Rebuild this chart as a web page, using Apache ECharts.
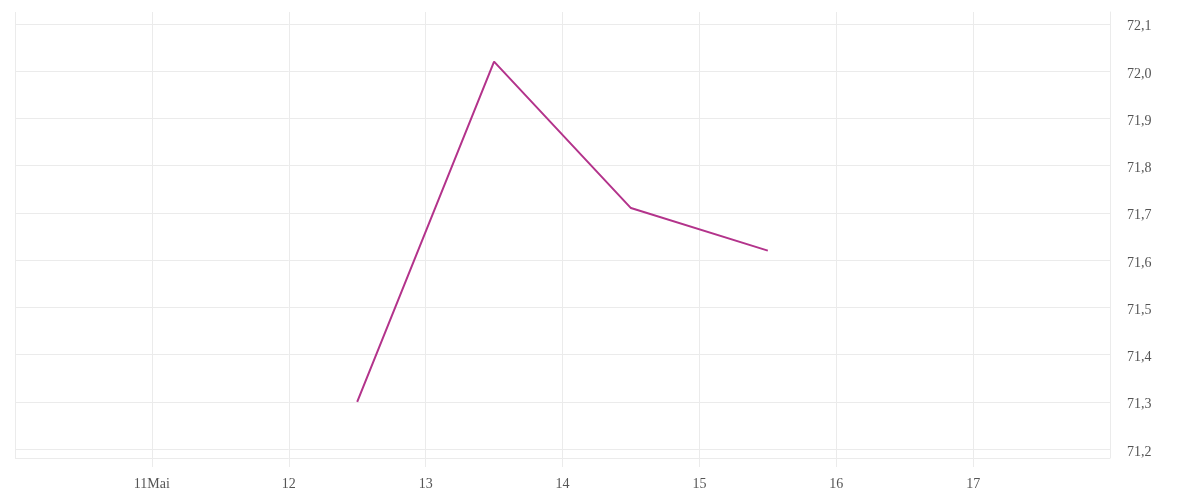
<!DOCTYPE html>
<html>
<head>
<meta charset="utf-8">
<script src="https://cdn.jsdelivr.net/npm/echarts@6/dist/echarts.min.js"></script>
<style>html,body{margin:0;padding:0;background:#fff}#c{width:1200px;height:500px}</style>
</head>
<body>
<div id="c"></div>
<script>
// Day of May (fractional = mid-day)
const days = [12.5, 13.5, 14.5, 15.5];
const values = [71.30, 72.02, 71.71, 71.62];
const xTickLabels = {11: '11Mai', 12: '12', 13: '13', 14: '14', 15: '15', 16: '16', 17: '17'};

const chart = echarts.init(document.getElementById('c'));
const font = 'Liberation Serif';
const gridColor = '#ebebeb';
chart.setOption({
  animation: false,
  grid: {left: 15, right: 90, top: 12, bottom: 42, containLabel: false},
  xAxis: {
    type: 'value', min: 10, max: 18, interval: 1,
    axisLine: {show: false},
    axisTick: {show: true, length: 9, lineStyle: {color: gridColor}},
    splitLine: {show: true, lineStyle: {color: gridColor}},
    axisLabel: {
      show: true, margin: 19, color: '#555', fontFamily: font, fontSize: 14,
      showMinLabel: false, showMaxLabel: false,
      formatter: v => xTickLabels[v] || ''
    }
  },
  yAxis: {
    type: 'value', position: 'right', min: 71.181, max: 72.125,
    splitNumber: 9, minInterval: 0.1, maxInterval: 0.1,
    axisLine: {show: true, lineStyle: {color: gridColor}},
    axisTick: {show: false},
    splitLine: {show: true, showMaxLine: false, lineStyle: {color: gridColor}},
    axisLabel: {
      margin: 17, color: '#555', fontFamily: font, fontSize: 14,
      verticalAlign: 'top', lineHeight: 6,
      showMinLabel: false, showMaxLabel: false,
      formatter: v => v.toFixed(1).replace('.', ',')
    }
  },
  series: [{
    type: 'line',
    data: days.map((d, i) => [d, values[i]]),
    symbol: 'none',
    lineStyle: {color: '#b3338b', width: 2},
    itemStyle: {color: '#b3338b'}
  }]
});
</script>
</body>
</html>
